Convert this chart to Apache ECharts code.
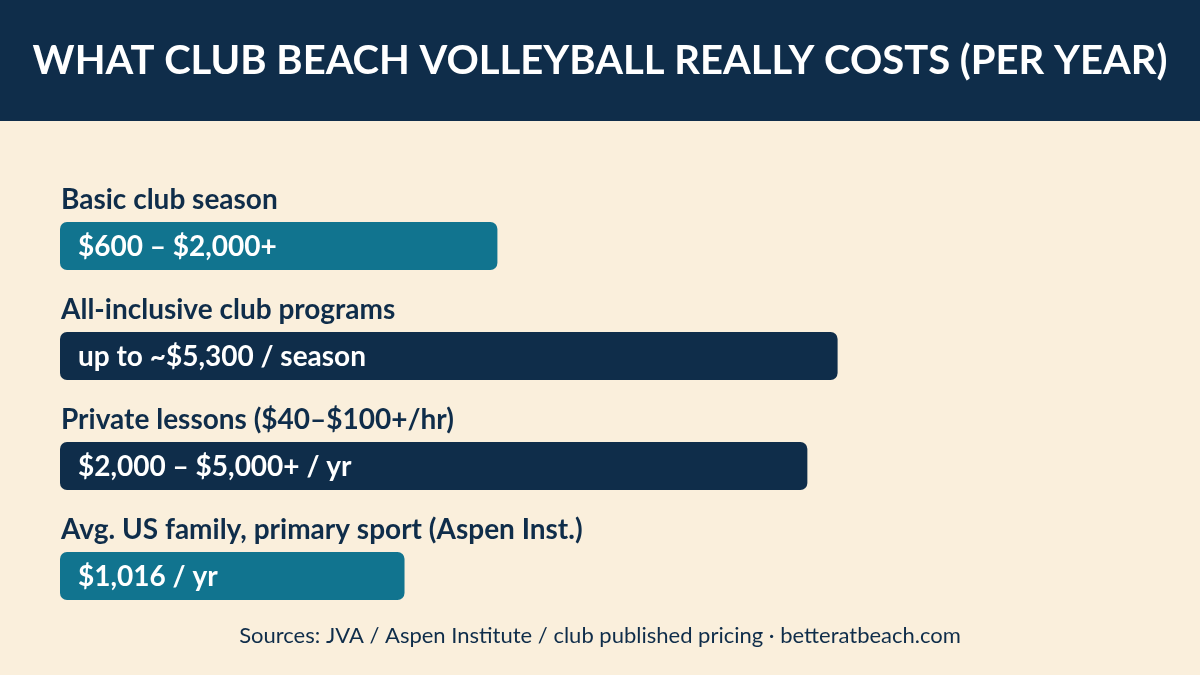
<!DOCTYPE html>
<html>
<head>
<meta charset="utf-8">
<script src="https://cdn.jsdelivr.net/npm/echarts@6/dist/echarts.min.js"></script>
<style>
  html, body { margin: 0; padding: 0; background: #faefdc; }
  #chart { width: 1200px; height: 675px; }
</style>
</head>
<body>
<div id="chart"></div>
<script>
// categories, labels and relative bar lengths
const categories = [
    'Basic club season',
    'All-inclusive club programs',
    'Private lessons ($40–$100+/hr)',
    'Avg. US family, primary sport (Aspen Inst.)'
];
const barTexts = [
    '$600 – $2,000+',
    'up to ~$5,300 / season',
    '$2,000 – $5,000+ / yr',
    '$1,016 / yr'
];
const barValues = [40.5, 72.0, 69.2, 31.9];
const barColors = ['#11748f', '#0f2d4a', '#0f2d4a', '#11748f'];

const navy = '#0f2d4a';

var myChart = echarts.init(document.getElementById('chart'));

var option = {
    backgroundColor: '#faefdc',
    animation: false,
    graphic: [
        {
            type: 'rect',
            left: 0, top: 0,
            shape: { width: 1200, height: 121 },
            style: { fill: navy },
            z: 0
        }
    ],
    title: [
        {
            text: 'WHAT CLUB BEACH VOLLEYBALL REALLY COSTS (PER YEAR)',
            left: 'center',
            top: 36,
            textStyle: { color: '#ffffff', fontFamily: 'Lato', fontWeight: 'bold', fontSize: 40 }
        },
        {
            text: 'Sources: JVA / Aspen Institute / club published pricing · betteratbeach.com',
            left: 'center',
            top: 620,
            textStyle: { color: navy, fontFamily: 'Lato', fontWeight: 'normal', fontSize: 22 }
        }
    ],
    grid: { left: 60, right: 60, top: 191, bottom: 44 },
    xAxis: {
        type: 'value',
        min: 0,
        max: 100,
        show: false
    },
    yAxis: {
        type: 'category',
        inverse: true,
        data: categories,
        show: false
    },
    series: [
        {
            type: 'bar',
            barWidth: 48,
            data: barValues.map((v, i) => ({
                value: v,
                itemStyle: { color: barColors[i], borderRadius: 7 }
            })),
            label: {
                show: true,
                position: 'insideLeft',
                distance: 18,
                offset: [0, 1],
                formatter: p => barTexts[p.dataIndex],
                color: '#ffffff',
                fontFamily: 'Lato',
                fontWeight: 'bold',
                fontSize: 28
            },
            z: 2
        },
        {
            type: 'bar',
            barWidth: 48,
            barGap: '-100%',
            data: barValues,
            itemStyle: { color: 'rgba(0,0,0,0)' },
            silent: true,
            label: {
                show: true,
                position: [1, -22],
                verticalAlign: 'middle',
                formatter: p => categories[p.dataIndex],
                color: navy,
                fontFamily: 'Lato',
                fontWeight: 'bold',
                fontSize: 28
            },
            z: 3
        }
    ]
};

myChart.setOption(option);
</script>
</body>
</html>
